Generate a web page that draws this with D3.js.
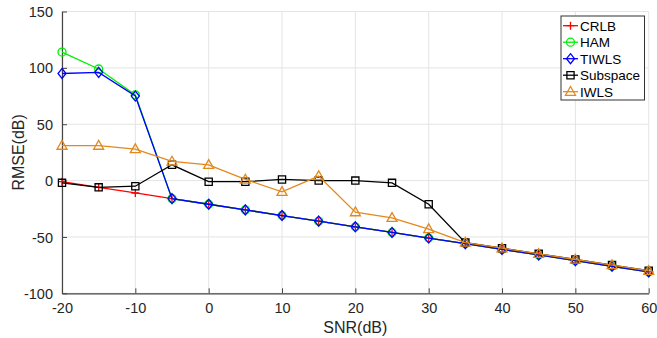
<!DOCTYPE html>
<html>
<head>
<meta charset="utf-8">
<script src="https://cdn.jsdelivr.net/npm/d3@7"></script>
<style>
  body { margin: 0; background: #fff; }
  svg { display: block; font-family: "Liberation Sans", Arial, sans-serif; }
</style>
</head>
<body>
<div id="chart"></div>
<script>
// chart data
var snr = [-20, -15, -10, -5, 0, 5, 10, 15, 20, 25, 30, 35, 40, 45, 50, 55, 60];
var crlb = [-1, -6, -11, -16, -21, -26, -31, -36, -41, -46, -51, -56, -61, -66, -71, -76, -81];
var ham = [114, 99, 76, -16, -21, -26, -31, -36, -41, -46, -51, -56, -61, -66, -71, -76, -81];
var tiwls = [95, 96, 75, -16, -21, -26, -31, -36, -41, -46, -51, -56, -61, -66, -71, -76, -81];
var subspace = [-2, -6, -5, 14, -1, -1, 1, 0, 0, -2, -21, -55, -60, -65, -70, -75, -80];
var iwls = [31, 31, 28, 17, 14, 1, -10, 4, -28, -33, -43, -55, -60, -65, -70, -75, -80];
var xTicks = [-20, -10, 0, 10, 20, 30, 40, 50, 60];
var yTicks = [-100, -50, 0, 50, 100, 150];

var series = [
  { name: "CRLB", values: crlb, color: "#ff0000", marker: "plus" },
  { name: "HAM", values: ham, color: "#00ee00", marker: "circle" },
  { name: "TIWLS", values: tiwls, color: "#0000ff", marker: "diamond" },
  { name: "Subspace", values: subspace, color: "#000000", marker: "square" },
  { name: "IWLS", values: iwls, color: "#e3891c", marker: "triangle" }
];

// set the dimensions and margins of the graph
var W = 657, H = 338;
var margin = { top: 11.5, right: 8.3, bottom: 44.7, left: 62 },
  width = W - margin.left - margin.right,
  height = H - margin.top - margin.bottom;

var x = d3.scaleLinear().domain([-20, 60]).range([0, width]);
var y = d3.scaleLinear().domain([-100, 150]).range([height, 0]);

var svg = d3.select("#chart").append("svg")
  .attr("width", W)
  .attr("height", H);
var g = svg.append("g")
  .attr("transform", "translate(" + margin.left + "," + margin.top + ")");

// grid
g.append("g").selectAll("line").data(xTicks).enter().append("line")
  .attr("x1", d => x(d)).attr("x2", d => x(d))
  .attr("y1", 0).attr("y2", height)
  .attr("stroke", "#e4e4e4").attr("stroke-width", 1);
g.append("g").selectAll("line").data(yTicks).enter().append("line")
  .attr("y1", d => y(d)).attr("y2", d => y(d))
  .attr("x1", 0).attr("x2", width)
  .attr("stroke", "#e4e4e4").attr("stroke-width", 1);

// axes (ticks pointing inward)
var xAxis = g.append("g")
  .attr("transform", "translate(0," + height + ")")
  .call(d3.axisBottom(x).tickValues(xTicks).tickFormat(d => String(d))
    .tickSizeInner(-5).tickSizeOuter(0).tickPadding(9));
var yAxis = g.append("g")
  .call(d3.axisLeft(y).tickValues(yTicks).tickFormat(d => String(d))
    .tickSizeInner(-5).tickSizeOuter(0).tickPadding(9));
[xAxis, yAxis].forEach(function (a) {
  a.select(".domain").attr("stroke", "#444").attr("stroke-width", 1.2);
  a.selectAll(".tick line").attr("stroke", "#444").attr("stroke-width", 1);
  a.selectAll("text").attr("fill", "#262626").style("font-size", "14.5px");
});
yAxis.selectAll("text").attr("dy", "0.35em");

// axis labels
svg.append("text")
  .attr("x", margin.left + width / 2).attr("y", 333)
  .attr("text-anchor", "middle").attr("fill", "#262626")
  .style("font-size", "16px").text("SNR(dB)");
svg.append("text")
  .attr("transform", "translate(24," + (margin.top + height / 2) + ") rotate(-90)")
  .attr("text-anchor", "middle").attr("fill", "#262626")
  .style("font-size", "16px").text("RMSE(dB)");

// marker shapes
function markerPath(type) {
  switch (type) {
    case "plus": return "M-4,0H4M0,-4V4";
    case "circle": return "M-4,0A4,4 0 1,0 4,0A4,4 0 1,0 -4,0Z";
    case "diamond": return "M0,-5L4,0L0,5L-4,0Z";
    case "square": return "M-3.6,-3.6H3.6V3.6H-3.6Z";
    case "triangle": return "M0,-5.2L5,3.6H-5Z";
  }
}

var line = d3.line()
  .x(d => x(d[0]))
  .y(d => y(d[1]));

series.forEach(function (s) {
  var pts = snr.map((v, i) => [v, s.values[i]]);
  var sg = g.append("g");
  sg.append("path")
    .datum(pts)
    .attr("fill", "none")
    .attr("stroke", s.color)
    .attr("stroke-width", 1.3)
    .attr("d", line);
  sg.selectAll("path.m").data(pts).enter().append("path")
    .attr("class", "m")
    .attr("transform", d => "translate(" + x(d[0]) + "," + y(d[1]) + ")")
    .attr("d", markerPath(s.marker))
    .attr("fill", "none")
    .attr("stroke", s.color)
    .attr("stroke-width", 1.3);
});

// legend
var lg = svg.append("g").attr("transform", "translate(561,16)");
lg.append("rect")
  .attr("width", 83.5).attr("height", 84)
  .attr("fill", "#fff").attr("stroke", "#333").attr("stroke-width", 1);
series.forEach(function (s, i) {
  var cy = 9.7 + i * 16.5;
  var row = lg.append("g").attr("transform", "translate(0," + cy + ")");
  row.append("line")
    .attr("x1", 2).attr("x2", 17).attr("y1", 0).attr("y2", 0)
    .attr("stroke", s.color).attr("stroke-width", 1.3);
  row.append("path")
    .attr("transform", "translate(9.5,0)")
    .attr("d", markerPath(s.marker))
    .attr("fill", "none").attr("stroke", s.color).attr("stroke-width", 1.3);
  row.append("text")
    .attr("x", 19).attr("y", 0).attr("dy", "0.36em")
    .attr("fill", "#000").style("font-size", "13.5px")
    .text(s.name);
});
</script>
</body>
</html>
